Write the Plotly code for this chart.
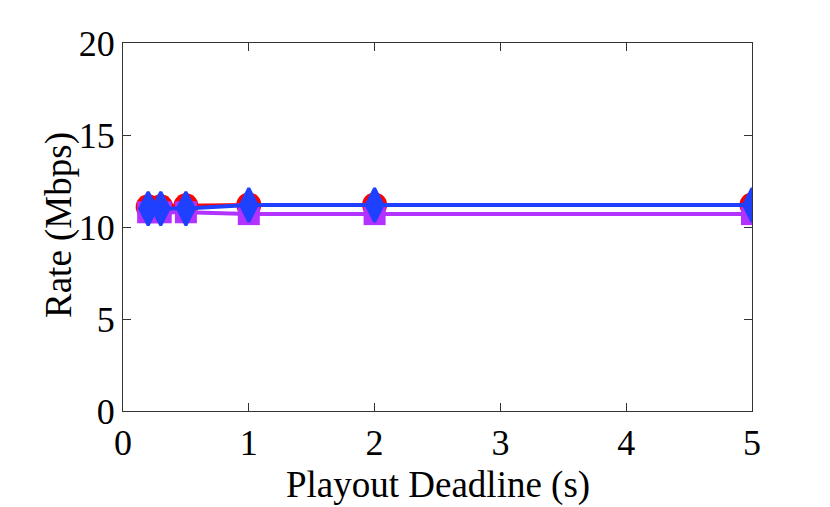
import plotly.graph_objects as go

deadline = [0.2, 0.3, 0.5, 1, 2, 5]
rate_red = [11.1, 11.1, 11.15, 11.2, 11.2, 11.2]
rate_purple = [10.8, 10.8, 10.8, 10.7, 10.7, 10.7]
rate_blue = [11.0, 11.0, 11.0, 11.2, 11.2, 11.2]

x_ticks = [0, 1, 2, 3, 4, 5]
y_ticks = [0, 5, 10, 15, 20]

fig = go.Figure()
fig.add_trace(go.Scatter(
    x=deadline, y=rate_red, mode='lines+markers',
    line={'color': '#ff0000', 'width': 4},
    marker={'symbol': 'circle', 'size': 25, 'color': '#ff0000'},
))
fig.add_trace(go.Scatter(
    x=deadline, y=rate_purple, mode='lines+markers',
    line={'color': '#b232ff', 'width': 4},
    marker={'symbol': 'square', 'size': 22, 'color': '#b232ff'},
))
fig.add_trace(go.Scatter(
    x=deadline, y=rate_blue, mode='lines+markers',
    line={'color': '#2040ff', 'width': 4},
    marker={'symbol': 'diamond-tall', 'size': 24, 'color': '#2040ff',
            'line': {'color': '#2040ff', 'width': 3}},
))

axis_style = dict(
    showline=True, linecolor='#333333', linewidth=1, mirror='ticks',
    ticks='inside', ticklen=8, tickcolor='#333333',
    showgrid=False, zeroline=False,
    tickfont={'size': 36, 'color': 'black'},
)

# the page body adds 8px around the figure, margins are shifted for it
fig.update_layout(
    width=830, height=507,
    paper_bgcolor='white', plot_bgcolor='white',
    font={'family': 'Liberation Serif', 'color': 'black'},
    showlegend=False,
    margin=dict(l=115, r=86, t=35, b=104),
    xaxis=dict(range=[0, 5], tickvals=x_ticks, **axis_style),
    yaxis=dict(range=[0, 20], tickvals=y_ticks, **axis_style),
)

# axis titles placed by hand, plotly's standoff can't go this tight
fig.add_annotation(text='Playout Deadline (s)', xref='paper', yref='paper',
                   x=0.5, y=-0.2, xanchor='center', yanchor='middle',
                   showarrow=False, font={'size': 37})
fig.add_annotation(text='Rate (Mbps)', xref='paper', yref='paper',
                   x=-0.102, y=0.505, xanchor='center', yanchor='middle',
                   textangle=-90, showarrow=False, font={'size': 37})

fig.write_html("out.html")
